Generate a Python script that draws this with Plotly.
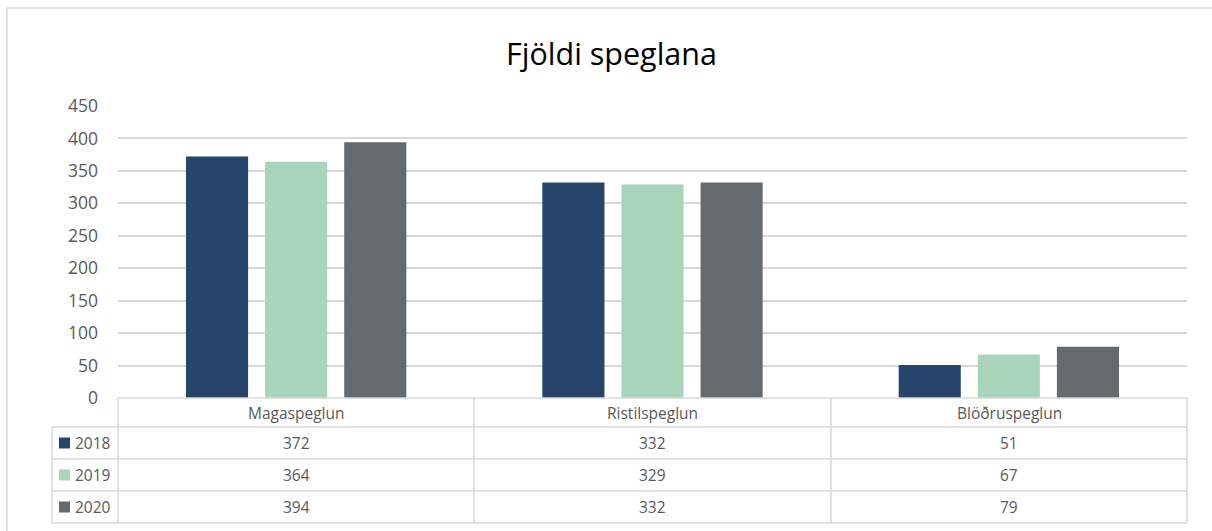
import plotly.graph_objects as go

categories = ["Magaspeglun", "Ristilspeglun", "Blöðruspeglun"]
years = ["2018", "2019", "2020"]
values_2018 = [372, 332, 51]
values_2019 = [364, 329, 67]
values_2020 = [394, 332, 79]
series = [values_2018, values_2019, values_2020]
colors = ["#27456A", "#A8D4BC", "#646A6D"]
title_text = "Fjöldi speglana"

W, H = 1212, 531
L, R, T, B = 118, 1187, 106, 398  # plot area in px


def px(x):
    return (x - L) / (R - L)


def py(y):
    return (B - y) / (B - T)


fig = go.Figure()
for name, vals, col in zip(years, series, colors):
    fig.add_trace(go.Bar(x=categories, y=vals, name=name, marker=dict(color=col, line=dict(width=0))))

grid = "#D9D9D9"
shapes = []
# outer chart border
shapes.append(dict(type="rect", xref="paper", yref="paper", x0=px(7), x1=px(1230), y0=py(8), y1=py(545),
                   line=dict(color=grid, width=1.5), fillcolor="rgba(0,0,0,0)", layer="below"))

# table geometry
col_edges = [118, 474, 831, 1187]
row_edges = [398, 427, 459, 491, 523]
leg_left = 52

def hline(y, x0, x1):
    shapes.append(dict(type="line", xref="paper", yref="paper", x0=px(x0), x1=px(x1), y0=py(y), y1=py(y),
                       line=dict(color=grid, width=1.5)))

def vline(x, y0, y1):
    shapes.append(dict(type="line", xref="paper", yref="paper", x0=px(x), x1=px(x), y0=py(y0), y1=py(y1),
                       line=dict(color=grid, width=1.5)))

hline(row_edges[0], col_edges[0], col_edges[-1])
for y in row_edges[1:]:
    hline(y, leg_left, col_edges[-1])
vline(leg_left, row_edges[1], row_edges[-1])
for x in col_edges:
    vline(x, row_edges[0], row_edges[-1])

annotations = []
FAM = "Open Sans, Noto Sans, sans-serif"
font_txt = dict(family=FAM, size=15.5, color="#595959")
# header labels
for i, cat in enumerate(categories):
    cx = (col_edges[i] + col_edges[i + 1]) / 2
    cy = (row_edges[0] + row_edges[1]) / 2
    annotations.append(dict(text=cat, x=px(cx), y=py(cy), xref="paper", yref="paper", showarrow=False,
                            xanchor="center", yanchor="middle", font=font_txt))
# rows
for r, (name, vals, col) in enumerate(zip(years, series, colors)):
    cy = (row_edges[r + 1] + row_edges[r + 2]) / 2
    shapes.append(dict(type="rect", xref="paper", yref="paper", x0=px(59), x1=px(70), y0=py(cy - 5.5), y1=py(cy + 5.5),
                       fillcolor=col, line=dict(width=0)))
    annotations.append(dict(text=name, x=px(73), y=py(cy), xref="paper", yref="paper", showarrow=False,
                            xanchor="left", yanchor="middle", font=font_txt))
    for i, v in enumerate(vals):
        cx = (col_edges[i] + col_edges[i + 1]) / 2
        annotations.append(dict(text=str(v), x=px(cx), y=py(cy), xref="paper", yref="paper", showarrow=False,
                                xanchor="center", yanchor="middle", font=font_txt))

# title
annotations.append(dict(text=title_text, x=px(611), y=py(53), xref="paper", yref="paper", showarrow=False,
                        xanchor="center", yanchor="middle",
                        font=dict(family=FAM, size=30.5, color="#000000")))

fig.update_layout(
    width=W, height=H,
    margin=dict(l=L, r=W - R, t=T, b=H - B, pad=0),
    paper_bgcolor="white", plot_bgcolor="white",
    barmode="group", bargap=0.334, bargroupgap=0.215,
    showlegend=False,
    shapes=shapes, annotations=annotations,
    font=dict(family=FAM, color="#595959"),
)
fig.update_xaxes(showticklabels=False, showgrid=False, zeroline=False, showline=False, ticks="")
fig.update_yaxes(range=[0, 450], dtick=50, showgrid=True, gridcolor=grid, gridwidth=1.5, zeroline=False,
                 showline=False, ticks="", tickfont=dict(family=FAM, size=17.5, color="#595959"),
                 ticklabelstandoff=19)

fig.write_html("out.html", config={"displayModeBar": False},
               post_script="document.body.style.margin='0';document.body.style.padding='0';")
